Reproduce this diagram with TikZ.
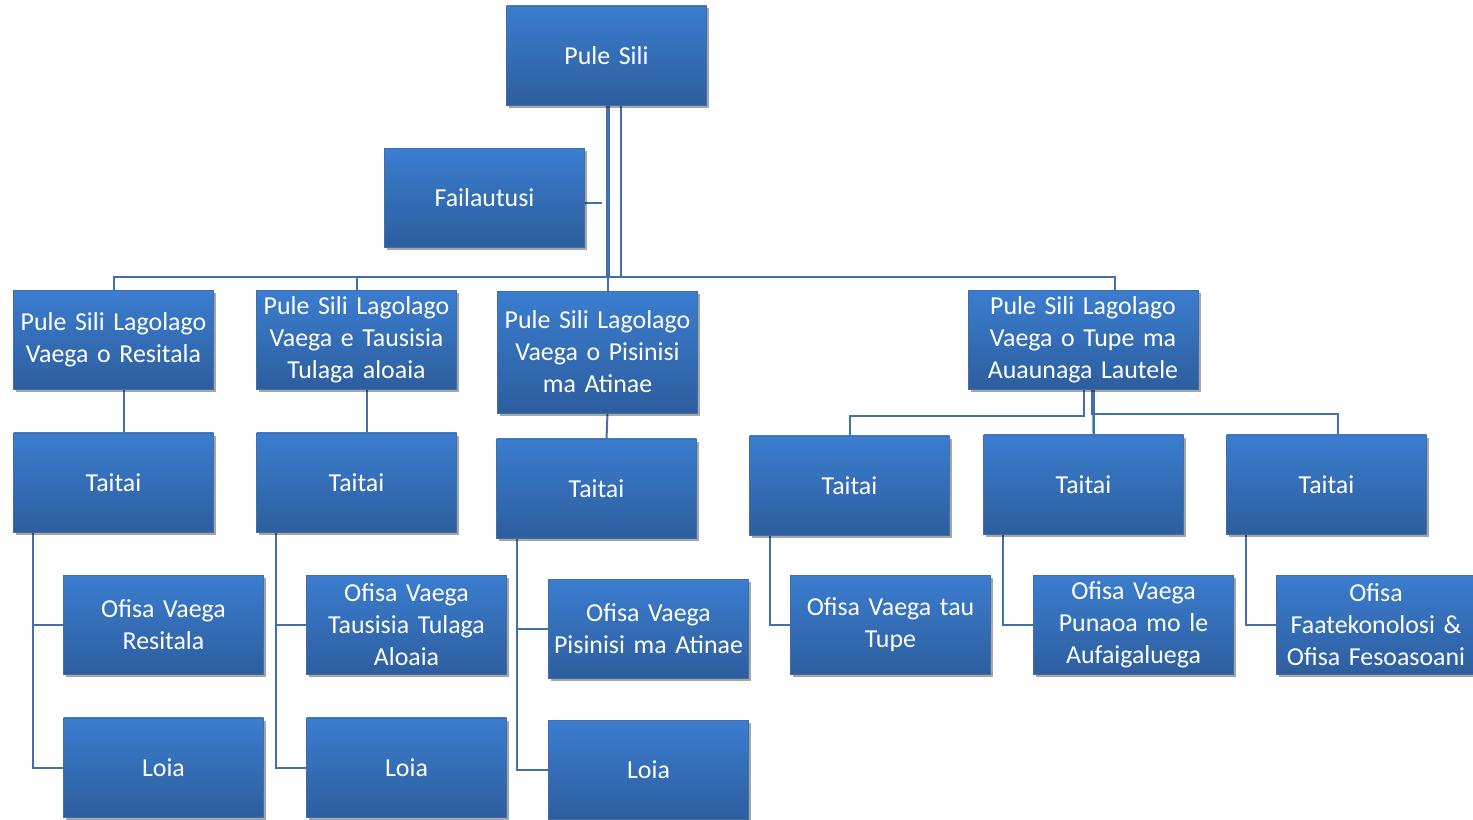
\documentclass[tikz,border=0pt]{standalone}
\usepackage{fontspec}
\setmainfont{Carlito}
\usetikzlibrary{shadows,calc,backgrounds}
\definecolor{boxtop}{HTML}{3B7DCF}
\definecolor{boxbot}{HTML}{2D5E9E}
\definecolor{linec}{HTML}{4170AA}
\tikzset{
  box/.style={rectangle, draw=boxbot!90!white, line width=0.4pt,
    top color=boxtop, bottom color=boxbot, text=white,
    minimum width=149.25pt, minimum height=74.5pt, inner sep=1pt,
    text width=148pt, align=center, font=\fontsize{19.4}{24}\selectfont,
    drop shadow={shadow xshift=2pt, shadow yshift=-2pt, opacity=0.35, fill=black}},
  conn/.style={draw=linec, line width=1.5pt},
  trunk/.style={draw=linec, line width=3.6pt},
}
\begin{document}
\begin{tikzpicture}[x=0.75pt,y=-0.75pt]
\useasboundingbox (0,0) rectangle (1473,820);
\coordinate (bus) at (608,277);
\node[box] (ps) at (606.5,55.5) {Pule Sili};
\node[box] (fa) at (484.5,198) {Failautusi};
\node[box] (l1) at (113.5,340) {Pule Sili Lagolago\\Vaega o Resitala};
\node[box] (l2) at (356.5,340) {Pule Sili Lagolago\\Vaega e Tausisia\\Tulaga aloaia};
\node[box, minimum height=91.5pt] (l3) at (597.5,352) {Pule Sili Lagolago\\Vaega o Pisinisi\\ma Atinae};
\node[box, minimum width=172.5pt, text width=170pt] (l4) at (1083,340) {Pule Sili Lagolago\\Vaega o Tupe ma\\Auaunaga Lautele};
\node[box] (t1) at (113.5,482.5) {Taitai};
\node[box] (t2) at (356.5,482.5) {Taitai};
\node[box] (t3) at (596.5,488.5) {Taitai};
\node[box] (t4) at (849.5,485.5) {Taitai};
\node[box] (t5) at (1083.5,484.5) {Taitai};
\node[box] (t6) at (1326.5,484.5) {Taitai};
\node[box] (o1) at (163.5,625) {Ofisa Vaega\\Resitala};
\node[box] (o2) at (406.5,625) {Ofisa Vaega\\Tausisia Tulaga\\Aloaia};
\node[box] (o3) at (648.5,629) {Ofisa Vaega\\Pisinisi ma Atinae};
\node[box] (o4) at (890.5,625) {Ofisa Vaega tau\\Tupe};
\node[box] (o5) at (1133.5,625) {Ofisa Vaega\\Punaoa mo le\\Aufaigaluega};
\node[box] (o6) at (1376,625) {Ofisa\\Faatekonolosi \&\\Ofisa Fesoasoani};
\node[box] (lo1) at (163.5,767.5) {Loia};
\node[box] (lo2) at (406.5,767.5) {Loia};
\node[box] (lo3) at (648.5,770) {Loia};
\begin{scope}[on background layer]
% top trunk
\draw[trunk] (ps.south -| bus) -- (bus);
\draw[conn] ([xshift=10.9pt]ps.south) -- ++(0,172);
\draw[conn] ([yshift=-3.75pt]fa.east) -- ++(17,0);
\draw[conn] (l1.north) -- (l1.north |- bus) -- ([xshift=24pt]l4.north |- bus) -- ([xshift=24pt]l4.north);
\draw[conn] (l2.north) -- (l2.north |- bus);
\draw[conn] (l3.north -| bus) -- (bus);
% lagolago to taitai
\draw[conn] ([xshift=7.5pt]l1.south) -- ([xshift=7.5pt]t1.north);
\draw[conn] ([xshift=7.5pt]l2.south) -- ([xshift=7.5pt]t2.north);
\draw[conn] ([xshift=7.5pt]l3.south) -- ([xshift=7.5pt]t3.north);
% L4 branch
\draw[conn] (t4.north) -- ++(0,-20) -| ([xshift=1pt]l4.south);
\draw[trunk] ([xshift=7.5pt]l4.south) -- ++(0,25);
\draw[conn] ([xshift=7.5pt]l4.south) -- ([xshift=7.5pt]t5.north);
\draw[conn] ([xshift=7.5pt]t5.north) -- ++(0,-21) -| ([xshift=8.6pt]t6.north);
% taitai side lines
\draw[conn] ([xshift=15pt]t1.south west) |- (o1.west);
\draw[conn] ([xshift=15pt]t1.south west) |- (lo1.west);
\draw[conn] ([xshift=15pt]t2.south west) |- (o2.west);
\draw[conn] ([xshift=15pt]t2.south west) |- (lo2.west);
\draw[conn] ([xshift=15.75pt]t3.south west) |- (o3.west);
\draw[conn] ([xshift=15.75pt]t3.south west) |- (lo3.west);
\draw[conn] ([xshift=15.75pt]t4.south west) |- (o4.west);
\draw[conn] ([xshift=15pt]t5.south west) |- (o5.west);
\draw[conn] ([xshift=15pt]t6.south west) |- (o6.west);
\end{scope}
\end{tikzpicture}
\end{document}
